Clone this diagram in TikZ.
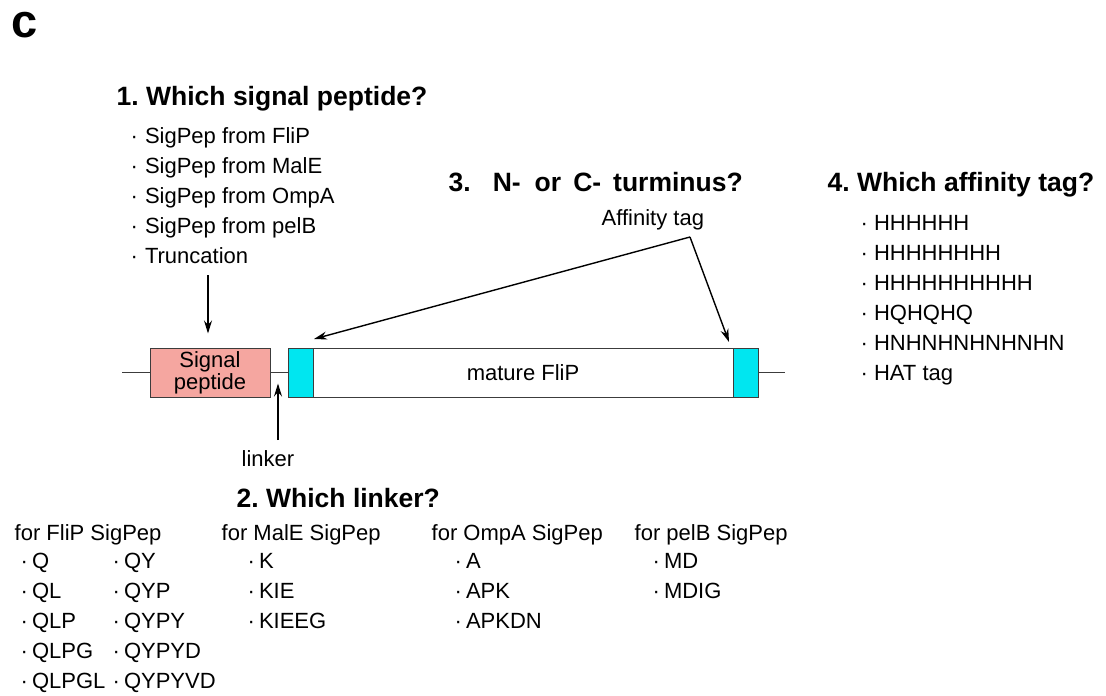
\documentclass[tikz,border=0pt]{standalone}
\usepackage{fontspec}
\setmainfont{Liberation Sans}
\usepackage{tikz}
\usetikzlibrary{arrows.meta}

\definecolor{sigpink}{RGB}{245,166,160}
\definecolor{tagcyan}{RGB}{0,230,240}
\definecolor{boxline}{RGB}{60,60,60}
\frenchspacing

\begin{document}
\begin{tikzpicture}
        [x = 1pt, y = -1pt, >= {Stealth[length = 13pt, width = 8pt]}, line width = 1.4pt,
         every node/.style = {inner sep = 0pt},
         item/.style = {anchor = base west, font = \fontsize{22}{22}\selectfont},
         head/.style = {anchor = base west, font = \fontsize{26.5}{30}\selectfont\bfseries},
         seg/.style = {draw = boxline, line width = 1pt, minimum height = 49pt,
                       font = \fontsize{22}{22}\selectfont, align = center}]
        \useasboundingbox (0,0) rectangle (1106,696);
        \node[anchor = base west, font = \fontsize{47}{50}\selectfont\bfseries] (panel) at (11,37) {c};

        % construct
        \node[seg, fill = sigpink, minimum width = 120pt] (sig) at (210,372.5) {Signal\\peptide};
        \node[seg, fill = tagcyan, minimum width = 25pt] (tagN) at (300.5,372.5) {};
        \node[seg, minimum width = 420pt] (mature) at (523,372.5) {mature FliP};
        \node[seg, fill = tagcyan, minimum width = 25pt] (tagC) at (745.5,372.5) {};
        \coordinate (lend) at (122,372.5);
        \coordinate (rend) at (785,372.5);
        \draw[boxline, line width = 1pt] (lend) -- (sig) (sig) -- (tagN) (tagC) -- (rend);

        % 1. signal peptide
        \node[head] (q1) at (116,105) {1. Which signal peptide?};
        \foreach \src [count = \i] in {SigPep from FliP, SigPep from MalE, SigPep from OmpA, SigPep from pelB, Truncation}
          \node[item] (sp\i) at (130, 113+30*\i) {·\hspace{7pt}\src};
        \coordinate (truncfoot) at (208,275);
        \draw[->, shorten >= 14pt] (truncfoot) -- (truncfoot |- sig.north);

        % 2. linker
        \coordinate (linkfoot) at (278,440);
        \draw[->, shorten >= 11pt] (linkfoot) -- (linkfoot |- sig.east);
        \node[item] (linker) at (241,466) {linker};
        \node[head] (q2) at (236,507) {2. Which linker?};
        \node[item] (fflip) at (14,540) {for FliP SigPep};
        \node[item] (fmale) at (221,540) {for MalE SigPep};
        \node[item] (fompa) at (431,540) {for OmpA SigPep};
        \node[item] (fpelb) at (634,540) {for pelB SigPep};
        \foreach \seq [count = \i] in {Q, QL, QLP, QLPG, QLPGL}
          \node[item] (lq\i) at (20, 538+30*\i) {·\hspace{4pt}\seq};
        \foreach \seq [count = \i] in {QY, QYP, QYPY, QYPYD, QYPYVD}
          \node[item] (ly\i) at (112, 538+30*\i) {·\hspace{4pt}\seq};
        \foreach \seq [count = \i] in {K, KIE, KIEEG}
          \node[item] (lk\i) at (247, 538+30*\i) {·\hspace{4pt}\seq};
        \foreach \seq [count = \i] in {A, APK, APKDN}
          \node[item] (la\i) at (454, 538+30*\i) {·\hspace{4pt}\seq};
        \foreach \seq [count = \i] in {MD, MDIG}
          \node[item] (lm\i) at (652, 538+30*\i) {·\hspace{4pt}\seq};

        % 3. terminus
        \node[head] (q3) at (448,191) {3.\hspace{22pt}N-\hspace{14pt}or\hspace{12pt}C-\hspace{12pt}turminus?};
        \node[item] (afftag) at (601,225) {Affinity tag};
        \coordinate (apex) at (690,237);
        \coordinate (tipN) at (314,339);
        \coordinate (tipC) at (729,342);
        \draw[->] (apex) -- (tipN);
        \draw[->] (apex) -- (tipC);

        % 4. affinity tag
        \node[head] (q4) at (827,191) {4. Which affinity tag?};
        \foreach \tag [count = \i] in {HHHHHH, HHHHHHHH, HHHHHHHHHH, HQHQHQ, HNHNHNHNHNHN, HAT tag}
          \node[item] (at\i) at (860, 200+30*\i) {·\hspace{6pt}\tag};
      \end{tikzpicture}
\end{document}
